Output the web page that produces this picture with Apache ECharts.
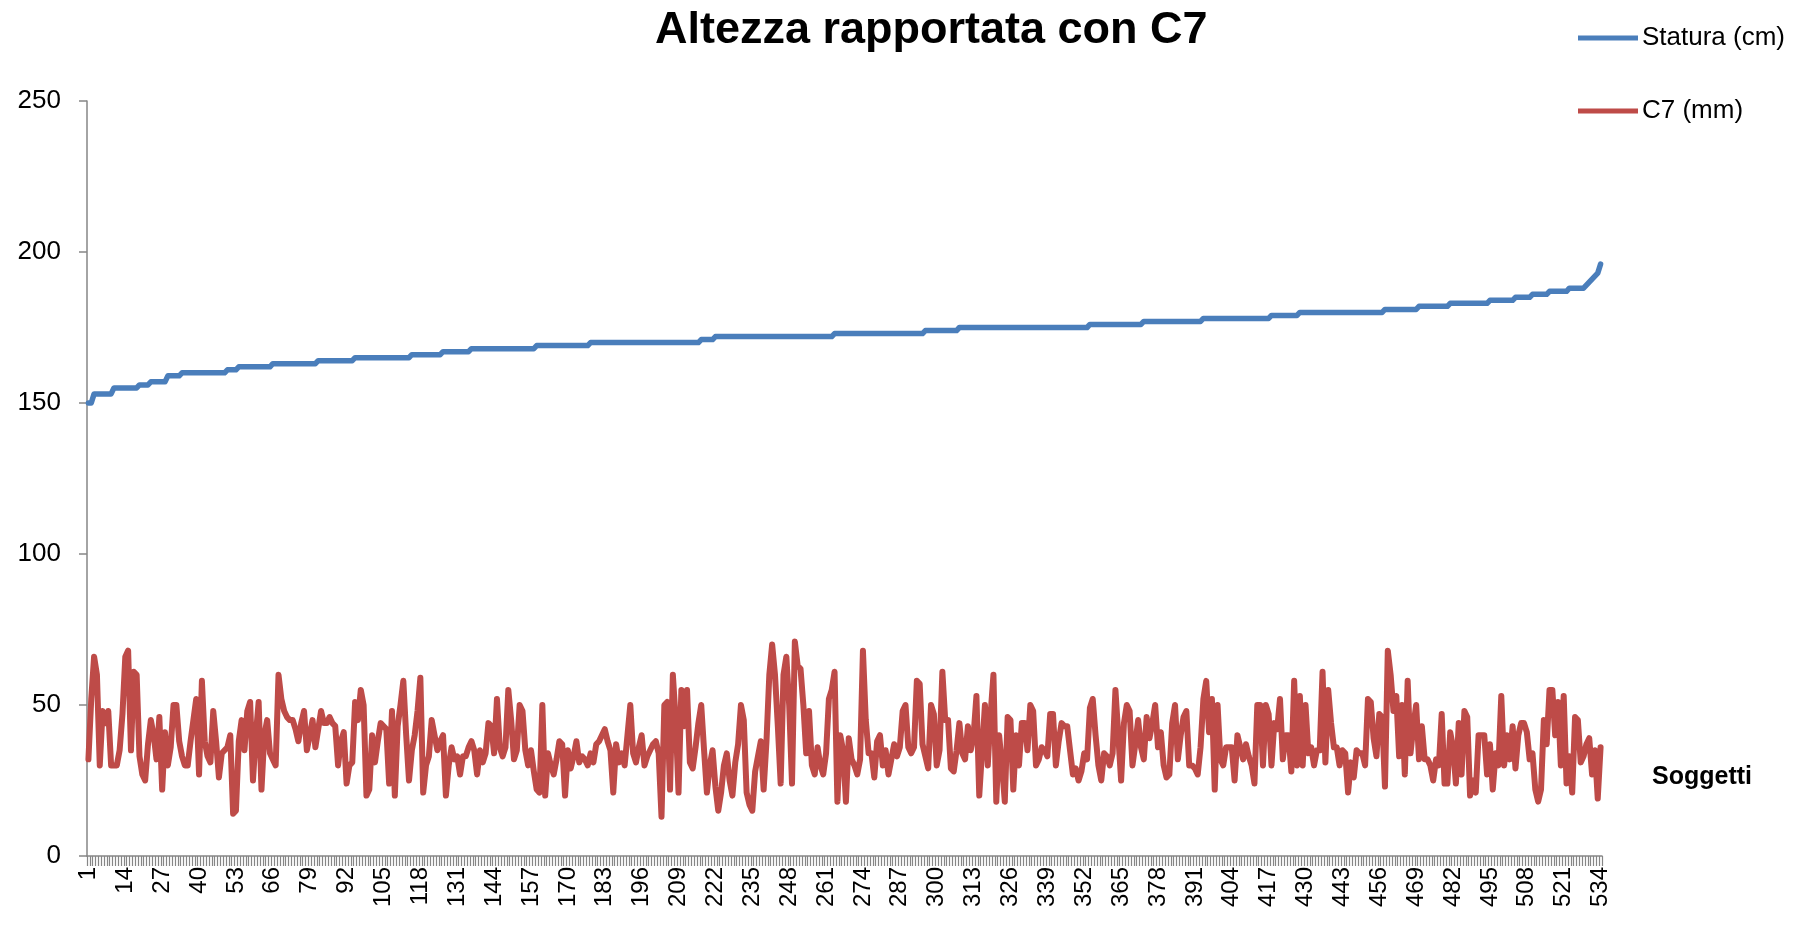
<!DOCTYPE html>
<html><head><meta charset="utf-8">
<script src="https://cdn.jsdelivr.net/npm/echarts@6/dist/echarts.min.js"></script>
<style>html,body{margin:0;padding:0;background:#fff}#c{width:1793px;height:933px}</style>
</head><body><div id="c"></div>
<script>
const titleText = 'Altezza rapportata con C7';
const seriesNames = ['Statura (cm)', 'C7 (mm)'];
const xAxisName = 'Soggetti';
const yTicks = [0, 50, 100, 150, 200, 250];

// Statura (cm): sorted step levels, with how many subjects sit on each level
const staturaLevels = [150,153,155,156,157,159,160,161,162,163,164,165,166,167,168,169,170,171,172,173,174,175,176,177,178,179,180,181,182,183,184,185,186,187,188,189,190,191,192,193,196];
const staturaCounts = [2,7,9,4,6,5,16,4,12,16,13,20,11,10,23,19,39,5,42,32,12,46,19,21,24,10,30,12,11,14,9,6,6,7,6,1,1,1,1,1,1];

// C7 (mm): one value per subject
const c7Values = [
32,52,66,60,30,48,44,48,30,30,
30,35,47,66,68,35,61,60,33,27,
25,37,45,40,32,46,22,41,30,36,
50,50,38,33,30,30,38,45,52,27,
58,38,33,31,48,38,26,34,35,36,
40,14,15,38,45,35,48,51,25,40,
51,22,40,45,34,32,30,60,52,48,
46,45,45,42,38,44,48,35,40,45,
36,42,48,44,44,46,44,43,30,38,
41,24,30,31,51,45,55,50,20,22,
40,31,38,44,43,42,24,48,20,43,
50,58,40,25,35,40,48,59,21,30,
33,45,40,35,38,40,20,30,36,32,
33,27,33,33,36,38,35,27,35,
31,34,44,43,34,52,36,33,36,55,
45,32,35,50,48,35,30,35,28,22,
21,50,20,34,30,27,32,38,37,20,
35,29,33,38,31,33,32,30,34,31,
37,38,40,42,38,35,21,37,31,34,
30,40,50,34,31,36,40,30,33,35,
37,38,34,13,50,51,22,60,45,21,
55,43,55,31,29,36,44,50,35,21,
30,35,23,15,21,30,34,25,20,31,
37,50,45,21,17,15,28,33,38,22,
38,60,70,60,43,24,60,66,50,24,
71,63,62,50,34,48,30,27,36,30,
27,34,52,55,61,18,40,35,18,39,
32,30,27,32,68,45,34,
34,26,38,40,30,35,27,32,37,33,
36,48,50,36,34,36,58,57,37,33,
29,50,47,30,35,61,45,45,29,28,
35,44,34,32,43,35,40,53,20,35,
50,30,47,60,18,40,30,18,46,45,
22,40,30,44,44,35,50,48,30,32,
36,35,33,47,47,30,38,44,43,43,
35,27,29,25,28,34,32,49,52,40,
30,25,34,33,30,34,55,40,25,44,
50,48,30,37,45,36,32,46,39,44,
50,36,41,30,26,27,44,50,32,40,
46,48,30,30,29,27,36,52,58,41,
52,22,50,32,30,36,36,36,25,40,
36,32,37,33,30,24,50,
50,30,50,47,30,44,42,52,32,40,
40,28,58,30,53,30,50,34,36,30,
35,35,61,31,55,44,36,36,30,35,
34,21,31,26,35,34,34,30,52,51,
39,33,47,46,23,68,60,48,53,33,
50,27,58,34,43,50,32,43,32,32,
30,25,32,30,47,24,24,41,36,24,
44,27,48,46,20,25,21,40,40,40,
27,37,22,34,30,53,30,40,32,43,
29,40,44,44,41,32,34,22,18,22,
45,37,55,55,40,51,30,53,24,33,
21,46,45,31,33,37,39,27,35,19,36
];

const staturaValues = [];
staturaLevels.forEach((v, k) => { for (let n = 0; n < staturaCounts[k]; n++) staturaValues.push(v); });
const categories = c7Values.map((_, k) => String(k + 1));

const FONT = 'Liberation Sans';
const chart = echarts.init(document.getElementById('c'), null, { renderer: 'canvas' });
chart.setOption({
  animation: false,
  backgroundColor: '#ffffff',
  title: {
    text: titleText, left: 655, top: 8, padding: 0,
    textStyle: { fontFamily: FONT, fontSize: 45, fontWeight: 'bold', color: '#000' }
  },
  legend: {
    orient: 'vertical', left: 1578, top: 25, itemWidth: 60, itemHeight: 5, itemGap: 47,
    icon: 'rect', padding: 0,
    textStyle: { fontFamily: FONT, fontSize: 26, color: '#000', padding: [0, 0, 0, -1] },
    data: seriesNames
  },
  graphic: [{
    type: 'text', left: 1652, top: 765,
    style: { text: xAxisName, font: 'bold 25px "Liberation Sans"', fill: '#000' }
  }],
  grid: { left: 87, right: 191, top: 101, bottom: 77 },
  xAxis: {
    type: 'category', data: categories, boundaryGap: true,
    axisLine: { lineStyle: { color: '#868686', width: 1.5 } },
    axisTick: { show: true, interval: 0, length: 10, lineStyle: { color: '#868686', width: 1.2 } },
    axisLabel: { interval: 12, rotate: 90, margin: 11, fontFamily: FONT, fontSize: 24, color: '#000' },
    splitLine: { show: false }
  },
  yAxis: {
    type: 'value', min: yTicks[0], max: yTicks[yTicks.length - 1], interval: yTicks[1] - yTicks[0],
    axisLine: { show: true, lineStyle: { color: '#868686', width: 1.5 } },
    axisTick: { show: true, length: 8, lineStyle: { color: '#868686', width: 1.5 } },
    axisLabel: { margin: 26, fontFamily: FONT, fontSize: 26, color: '#000' },
    splitLine: { show: false }
  },
  series: [
    { name: seriesNames[0], type: 'line', data: staturaValues, symbol: 'none',
      color: '#4A7EBB', lineStyle: { width: 5.5, color: '#4A7EBB', cap: 'round', join: 'round' } },
    { name: seriesNames[1], type: 'line', data: c7Values, symbol: 'none',
      color: '#BE4B48', lineStyle: { width: 6, color: '#BE4B48', cap: 'round', join: 'round' } }
  ]
});
</script></body></html>
